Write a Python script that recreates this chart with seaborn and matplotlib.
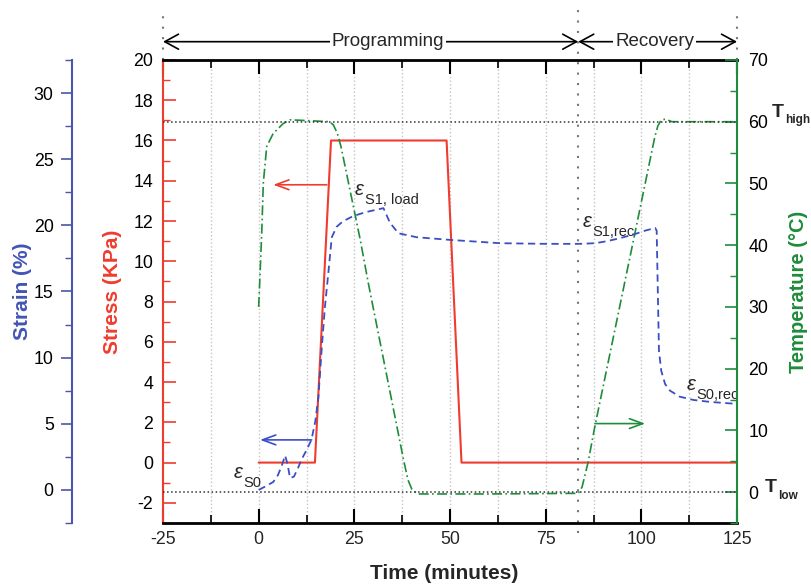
import matplotlib
matplotlib.use("Agg")
import matplotlib.pyplot as plt
import numpy as np
import seaborn as sns

# ---- data -------------------------------------------------------------
# applied stress (KPa) vs time (min)
time_stress = [0, 14.7, 18.9, 49.1, 53.0, 125]
stress_kpa = [0, 0, 16, 16, 0, 0]

# chamber temperature (degC) vs time (min)
time_temp = [0, 0.8, 1.2, 2.1, 3.8, 6.4, 8.2, 12, 18.5, 19.5, 20.5, 21.5,
             26.5, 28.6, 37.8, 39, 40, 41.5, 60, 83.5, 84.5, 86.1, 87.9,
             98.3, 102.5, 103.5, 104.3, 105.2, 106.3, 108, 125]
temp_c = [30, 42, 50, 56, 58.1, 59.7, 60.3, 60.2, 60, 59.5, 58.2, 56,
          41, 34, 5.4, 2.0, 0.5, -0.3, -0.3, -0.2, 0.8, 4.9, 10.8,
          41.9, 54.5, 57.5, 59.3, 60.3, 60.4, 60.0, 60]

# measured strain (%) vs time (min)
time_strain = [0, 2, 3.8, 5, 6, 6.9, 7.5, 8.2, 9.2, 10.2, 11.2, 12.5, 13.8,
               14.8, 15.6, 16.5, 17.3, 18.2, 19.1, 20.4, 22, 24.7, 28, 32.6,
               34.3, 36.5, 41.3, 50, 63, 75, 84, 87.9, 91, 94, 97.9, 101,
               103.6, 104.0, 104.3, 104.6, 105.2, 106.2, 107.5, 110, 113.6,
               118, 125]
strain_pct = [0, 0.3, 0.6, 1.1, 1.8, 2.6, 2.0, 0.9, 1.0, 1.6, 2.3, 3.0, 3.8,
              5.2, 7.0, 10.8, 13.8, 16.4, 19.1, 19.9, 20.3, 20.7, 21.0, 21.3,
              20.2, 19.4, 19.1, 18.9, 18.65, 18.6, 18.6, 18.65, 18.8, 19.0,
              19.3, 19.6, 19.8, 19.6, 15.0, 10.5, 9.0, 8.0, 7.5, 7.05, 6.8,
              6.65, 6.5]

time_ticks = [-25, 0, 25, 50, 75, 100, 125]
stress_ticks = list(range(-2, 21, 2))
temp_ticks = list(range(0, 71, 10))
strain_ticks = list(range(0, 31, 5))

# phase boundaries (min)
t_start, t_switch, t_end = -25, 83.5, 125

RED = "#f03c2e"
BLUE = "#3a4fc4"
BLUE_AX = "#4b55aa"
GREEN = "#1e8c3a"
TICK_FS = 12.8

# ---- style ------------------------------------------------------------
sns.set_theme(style="white")
plt.rcParams["font.family"] = ["Liberation Sans", "DejaVu Sans"]
plt.rcParams["axes.unicode_minus"] = False

fig = plt.figure(figsize=(8.11, 5.84), dpi=100)
ax = fig.add_axes([0.201, 0.1045, 0.7078, 0.7928])
ax_t = ax.twinx()
ax_s = ax.twinx()

# ---- curves -----------------------------------------------------------
sns.lineplot(x=time_stress, y=stress_kpa, ax=ax, color=RED, lw=1.5,
             estimator=None, sort=False)
sns.lineplot(x=time_temp, y=temp_c, ax=ax_t, color=GREEN, lw=1.2,
             linestyle=(0, (6, 2, 1, 2)), estimator=None, sort=False)
sns.lineplot(x=time_strain, y=strain_pct, ax=ax_s, color=BLUE, lw=1.3,
             linestyle=(0, (4, 2.5)), estimator=None, sort=False)

# ---- stress axis (main) -----------------------------------------------
ax.set_xlim(-25, 125)
ax.set_xticks(time_ticks)
ax.set_xticks(np.arange(-12.5, 125, 25), minor=True)
ax.set_ylim(-3, 20)
ax.set_yticks(stress_ticks)
ax.set_yticks(np.arange(-3, 20, 2), minor=True)
ax.tick_params(axis="x", which="major", direction="in", length=10, width=1.5,
               top=True, bottom=True, color="black", labelsize=TICK_FS, pad=6)
ax.tick_params(axis="x", which="minor", direction="in", length=6, width=1.2,
               top=True, bottom=True, color="black")
ax.tick_params(axis="y", which="major", direction="in", length=9, width=1.2,
               color=RED, labelcolor="black", labelsize=TICK_FS, pad=7)
ax.tick_params(axis="y", which="minor", direction="in", length=5, width=1.0,
               color=RED, left=True)
ax.grid(True, axis="x", which="both", color="#c4c4c4", ls=":", lw=1.0)
for side in ("top", "bottom"):
    ax.spines[side].set_color("black")
    ax.spines[side].set_linewidth(2)
ax.spines["left"].set_color(RED)
ax.spines["left"].set_linewidth(1.5)
ax.spines["right"].set_visible(False)
ax.set_ylabel("Stress (KPa)", color=RED, fontsize=15, fontweight="bold")
ax.yaxis.set_label_coords(-0.072, 0.5)
ax.set_xlabel("Time (minutes)", fontsize=15, fontweight="bold")
ax.xaxis.set_label_coords(0.49, -0.088)

# ---- temperature axis (right) -----------------------------------------
ax_t.set_ylim(-5, 70)
ax_t.set_yticks(temp_ticks)
ax_t.set_yticks(np.arange(-5, 70, 10), minor=True)
ax_t.tick_params(axis="y", which="major", direction="in", length=9, width=1.2,
                 color=GREEN, labelcolor="black", labelsize=TICK_FS, pad=8)
ax_t.tick_params(axis="y", which="minor", direction="in", length=5, width=1.0,
                 color=GREEN)
for side in ("top", "bottom", "left"):
    ax_t.spines[side].set_visible(False)
ax_t.spines["right"].set_color(GREEN)
ax_t.spines["right"].set_linewidth(1.5)
ax_t.set_ylabel("Temperature (\u00b0C)", color=GREEN, fontsize=14.5,
                fontweight="bold")
ax_t.yaxis.set_label_coords(1.091, 0.5)

# reference temperatures
for level in (60, 0):
    ax_t.axhline(level, color="#333333", ls=":", lw=1.1)

ytr = ax_t.get_yaxis_transform()


def temp_level_label(x, level, sub):
    ax_t.annotate("T", (x, level), xycoords=ytr, fontsize=14,
                  fontweight="bold", ha="left", va="baseline",
                  annotation_clip=False)
    ax_t.annotate(sub, (x, level), xycoords=ytr, xytext=(9.2, -4.6),
                  textcoords="offset points", fontsize=8.5, fontweight="bold",
                  ha="left", va="baseline", annotation_clip=False)


temp_level_label(1.061, 60.76, "high")
temp_level_label(1.049, -0.05, "low")

# ---- strain axis (far left) -------------------------------------------
ax_s.set_ylim(-2.5, 32.5)
ax_s.spines["left"].set_position(("axes", -0.159))
ax_s.spines["left"].set_visible(True)
ax_s.spines["left"].set_color(BLUE_AX)
ax_s.spines["left"].set_linewidth(1.5)
for side in ("top", "bottom", "right"):
    ax_s.spines[side].set_visible(False)
ax_s.yaxis.set_ticks_position("left")
ax_s.yaxis.set_label_position("left")
ax_s.set_yticks(strain_ticks)
ax_s.set_yticks(np.arange(-2.5, 33, 5), minor=True)
ax_s.tick_params(axis="y", which="major", direction="out", length=8, width=1.2,
                 color=BLUE_AX, labelcolor="black", labelsize=TICK_FS, pad=5)
ax_s.tick_params(axis="y", which="minor", direction="out", length=5, width=1.0,
                 color=BLUE_AX)
ax_s.set_ylabel("Strain (%)", color="#4155b5", fontsize=15, fontweight="bold")
ax_s.yaxis.set_label_coords(-0.228, 0.5)

# ---- phase markers ----------------------------------------------------
dot = dict(color="#777777", ls=(0, (1, 4)), lw=1.5, clip_on=False)
ax.axvline(t_switch, ymin=-0.022, ymax=1.112, **dot)
ax.axvline(t_start, ymin=1.0, ymax=1.112, **dot)
ax.axvline(t_end, ymin=1.0, ymax=1.112, **dot)

arrow_y = 1.0395
xt = ax.get_xaxis_transform()
phase_arrow = dict(arrowstyle="<->, head_length=0.55, head_width=0.3",
                   color="black", lw=1.2, shrinkA=0, shrinkB=0,
                   mutation_scale=18)
for a, b in ((t_start, t_switch), (t_switch, t_end)):
    ax.annotate("", xy=(a, arrow_y), xytext=(b, arrow_y), xycoords=xt,
                textcoords=xt, arrowprops=phase_arrow, annotation_clip=False)
ax.text(33.8, arrow_y, "Programming", transform=xt, fontsize=13.5,
        ha="center", va="center",
        bbox=dict(facecolor="white", edgecolor="none", pad=1.5))
ax.text(103.5, arrow_y, "Recovery", transform=xt, fontsize=13.5,
        ha="center", va="center",
        bbox=dict(facecolor="white", edgecolor="none", pad=1.5))

# ---- axis indicator arrows --------------------------------------------
def pointer(target_ax, tip, tail, color):
    target_ax.annotate("", xy=tip, xytext=tail,
                       arrowprops=dict(arrowstyle="->, head_length=0.6, head_width=0.22",
                                       color=color, lw=1.2, shrinkA=0, shrinkB=0,
                                       mutation_scale=16))


pointer(ax, (3.8, 13.8), (17.8, 13.8), RED)
pointer(ax_s, (0.35, 3.78), (13.85, 3.78), BLUE)
pointer(ax_t, (101.0, 11.1), (87.9, 11.1), GREEN)

# ---- strain state labels ----------------------------------------------
def strain_label(t, s, sub):
    ax.annotate("\u03b5", (t, s), fontsize=14.5, style="italic",
                ha="left", va="baseline")
    ax.annotate(sub, (t, s), xytext=(7.0, -6.6), textcoords="offset points",
                fontsize=10.5, ha="left", va="baseline")


strain_label(-6.45, -0.76, "S0")
strain_label(25.2, 13.29, "S1, load")
strain_label(84.7, 11.70, "S1,rec")
strain_label(111.9, 3.61, "S0,rec")

fig.savefig("out.png", dpi=100)
